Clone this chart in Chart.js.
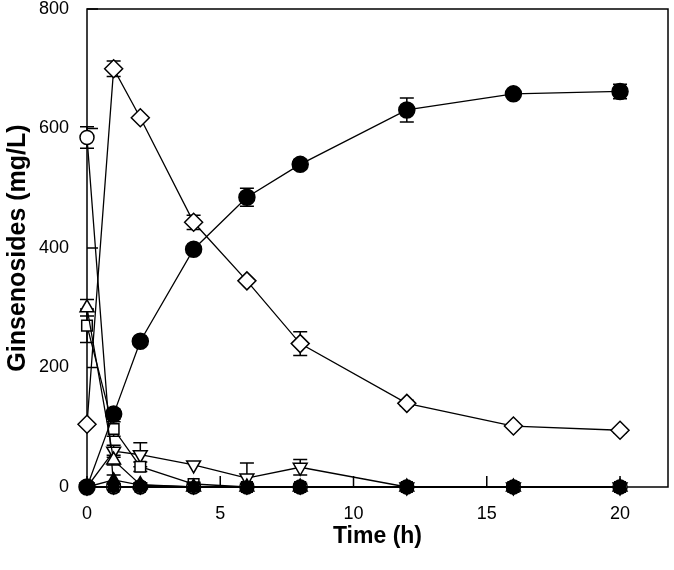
<!DOCTYPE html>
<html>
<head>
<meta charset="utf-8">
<script src="https://cdn.jsdelivr.net/npm/chart.js@4/dist/chart.umd.min.js"></script>
<style>
  html, body { margin: 0; padding: 0; background: #fff; }
  #wrap { width: 674px; height: 570px; }
</style>
</head>
<body>
<div id="wrap"><canvas id="chart" width="674" height="570"></canvas></div>
<script>
// ======================================================
// --- Datos ---
// ======================================================
const times = [0, 1, 2, 4, 6, 8, 12, 16, 20];

const filledCircle = [0, 122, 244, 398, 485, 540, 631, 658, 662];
const filledCircleErr = [0, 8, 6, 5, 15, 8, 20, 4, 12];

const openDiamond = [105, 700, 618, 443, 345, 240, 140, 102, 95];
const openDiamondErr = [0, 13, 0, 12, 0, 20, 5, 0, 4];

const openCircle = [585, 0, 0, 0, 0, 0, 0, 0, 0];
const openCircleErr = [18, 0, 0, 0, 0, 0, 0, 0, 0];

const openTriangle = [300, 45, 4, 0, 0, 0, 0, 0, 0];
const openTriangleErr = [14, 8, 0, 0, 0, 0, 0, 0, 0];

const openSquare = [270, 97, 34, 5, 0, 0, 0, 0, 0];
const openSquareErr = [28, 12, 8, 3, 0, 0, 0, 0, 0];

const openDownTriangle = [0, 60, 54, 37, 15, 33, 0, 0, 0];
const openDownTriangleErr = [0, 10, 20, 0, 25, 13, 0, 0, 0];

const filledTriangle = [0, 12, 3, 0, 0, 0, 0, 0, 0];
const filledTriangleErr = [0, 8, 4, 0, 0, 0, 0, 0, 0];

const filledDownTriangle = [0, 0, 0, 0, 0, 0, 0, 0, 0];
const filledSquare = [0, 0, 0, 0, 0, 0, 0, 0, 0];
const noErr = [0, 0, 0, 0, 0, 0, 0, 0, 0];

const xTicks = [0, 5, 10, 15, 20];
const yTicks = [0, 200, 400, 600, 800];

// ======================================================
// --- Utilidad: serie -> puntos {x, y} ---
// ======================================================
function toPoints(values) {
  return values.map((v, i) => ({ x: times[i], y: v }));
}

function makeSeries(values, errors, style, fill, radius, order, rotation) {
  return {
    data: toPoints(values),
    errors: errors,
    order: order,
    showLine: true,
    borderColor: "#000",
    borderWidth: 1.3,
    pointStyle: style,
    pointRotation: rotation || 0,
    pointRadius: radius,
    pointHoverRadius: radius,
    pointBackgroundColor: fill,
    pointBorderColor: "#000",
    pointBorderWidth: 1.5,
    clip: false,
  };
}

// ======================================================
// --- Plugin: barras de error, marco y marcas hacia dentro ---
// ======================================================
const errorBarPlugin = {
  id: "errorBars",
  beforeDatasetsDraw(chart) {
    const ctx = chart.ctx;
    const xs = chart.scales.x;
    const ys = chart.scales.y;
    ctx.save();
    ctx.strokeStyle = "#000";
    ctx.lineWidth = 1.5;
    chart.data.datasets.forEach((ds) => {
      ds.data.forEach((p, i) => {
        const e = ds.errors[i];
        if (!e) return;
        const px = xs.getPixelForValue(p.x);
        const top = ys.getPixelForValue(p.y + e);
        const bot = ys.getPixelForValue(Math.max(p.y - e, 0));
        ctx.beginPath();
        ctx.moveTo(px, top);
        ctx.lineTo(px, bot);
        ctx.moveTo(px - 7, top);
        ctx.lineTo(px + 7, top);
        if (p.y - e > 0) {
          ctx.moveTo(px - 7, bot);
          ctx.lineTo(px + 7, bot);
        }
        ctx.stroke();
      });
    });
    ctx.restore();
  },
};

const framePlugin = {
  id: "frame",
  beforeDatasetsDraw(chart) {
    const ctx = chart.ctx;
    const a = chart.chartArea;
    const xs = chart.scales.x;
    const ys = chart.scales.y;
    ctx.save();
    ctx.strokeStyle = "#000";
    ctx.lineWidth = 1.5;
    ctx.strokeRect(a.left, a.top, a.right - a.left, a.bottom - a.top);
    ctx.beginPath();
    xTicks.forEach((t) => {
      const px = xs.getPixelForValue(t);
      ctx.moveTo(px, a.bottom);
      ctx.lineTo(px, a.bottom - 11);
    });
    yTicks.forEach((t) => {
      const py = ys.getPixelForValue(t);
      ctx.moveTo(a.left, py);
      ctx.lineTo(a.left + 11, py);
    });
    ctx.stroke();
    ctx.restore();
  },
};

// ======================================================
// --- Gráfico ---
// ======================================================
Chart.defaults.font.family = "'Liberation Sans', Arial, sans-serif";
Chart.defaults.color = "#000";

new Chart(document.getElementById("chart"), {
  type: "scatter",
  data: {
    datasets: [
      makeSeries(filledCircle, filledCircleErr, "circle", "#000", 8, 0),
      makeSeries(filledTriangle, filledTriangleErr, "triangle", "#000", 7, 1),
      makeSeries(filledDownTriangle, noErr, "triangle", "#000", 7, 1, 180),
      makeSeries(filledSquare, noErr, "rect", "#000", 7, 1),
      makeSeries(openDiamond, openDiamondErr, "rectRot", "#fff", 9, 2),
      makeSeries(openCircle, openCircleErr, "circle", "#fff", 7, 3),
      makeSeries(openTriangle, openTriangleErr, "triangle", "#fff", 8, 2),
      makeSeries(openSquare, openSquareErr, "rect", "#fff", 7.5, 2),
      makeSeries(openDownTriangle, openDownTriangleErr, "triangle", "#fff", 8, 2, 180),
    ],
  },
  options: {
    responsive: false,
    animation: false,
    layout: { autoPadding: false, padding: { top: 9, right: 6, left: 0, bottom: 0 } },
    plugins: {
      legend: { display: false },
      tooltip: { enabled: false },
    },
    scales: {
      x: {
        type: "linear",
        min: 0,
        max: 21.8,
        grid: { display: false },
        border: { display: false },
        ticks: {
          stepSize: 5,
          includeBounds: false,
          padding: 8,
          font: { size: 18 },
        },
        title: {
          display: true,
          text: "Time (h)",
          font: { size: 23, weight: "bold" },
          padding: { top: 0, bottom: 20 },
        },
        afterFit: (scale) => {
          scale.height = 83;
          scale.paddingLeft = 0;
          scale.paddingRight = 0;
        },
      },
      y: {
        type: "linear",
        min: 0,
        max: 800,
        grid: { display: false },
        border: { display: false },
        ticks: {
          stepSize: 200,
          padding: 10,
          font: { size: 18 },
        },
        title: {
          display: true,
          text: "Ginsenosides (mg/L)",
          font: { size: 25, weight: "bold" },
          padding: { top: 3, bottom: 0 },
        },
        afterFit: (scale) => {
          scale.width = 87;
          scale.paddingTop = 0;
          scale.paddingBottom = 0;
        },
      },
    },
  },
  plugins: [errorBarPlugin, framePlugin],
});
</script>
</body>
</html>
